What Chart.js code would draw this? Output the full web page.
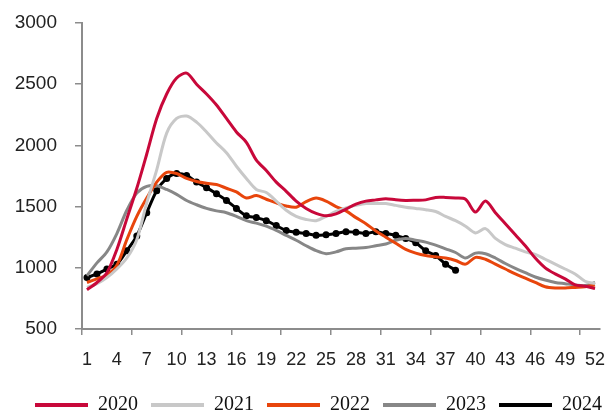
<!DOCTYPE html>
<html>
<head>
<meta charset="utf-8">
<script src="https://cdn.jsdelivr.net/npm/chart.js@4"></script>
<style>
  html, body { margin: 0; padding: 0; background: #fff; }
  #wrap { width: 609px; height: 410px; }
</style>
</head>
<body>
<div id="wrap"><canvas id="myChart"></canvas></div>
<script>
var weeks = [];
for (var w = 1; w <= 52; w++) weeks.push(String(w));

var y2020 = [820, 880, 960, 1150, 1400, 1650, 1930, 2220, 2420, 2550, 2590, 2500, 2420, 2330, 2220, 2110,
  2025, 1880, 1795, 1700, 1625, 1545, 1485, 1445, 1425, 1440, 1480, 1520, 1545, 1555, 1565, 1555, 1550, 1552,
  1555, 1575, 1575, 1570, 1560, 1455, 1545, 1450, 1360, 1270, 1180, 1080, 1000, 950, 910, 860, 850, 830];
var y2021 = [840, 870, 920, 990, 1080, 1230, 1530, 1800, 2100, 2220, 2240, 2190, 2110, 2020, 1940, 1830,
  1730, 1640, 1615, 1545, 1470, 1420, 1395, 1385, 1420, 1460, 1490, 1510, 1525, 1525, 1525, 1510, 1495, 1485,
  1475, 1460, 1420, 1385, 1340, 1285, 1320, 1240, 1190, 1160, 1130, 1110, 1070, 1030, 990, 950, 890, 870];
var y2022 = [880, 910, 940, 1020, 1230, 1420, 1570, 1700, 1780, 1770, 1730, 1705, 1690, 1680, 1650, 1620,
  1570, 1590, 1560, 1530, 1505, 1495, 1540, 1570, 1545, 1500, 1465, 1410, 1360, 1300, 1250, 1200, 1150, 1120,
  1100, 1090, 1080, 1060, 1030, 1085, 1070, 1030, 990, 950, 915, 880, 845, 835, 835, 840, 845, 860];
var y2023 = [935, 1040, 1130, 1280, 1470, 1610, 1665, 1670, 1640, 1600, 1550, 1515, 1485, 1465, 1450, 1420,
  1385, 1365, 1340, 1305, 1265, 1225, 1180, 1140, 1115, 1130, 1155, 1160, 1165, 1180, 1195, 1225, 1240, 1225,
  1210, 1185, 1155, 1125, 1080, 1120, 1115, 1080, 1035, 995, 960, 925, 900, 880, 870, 860, 855, 880];
var y2024 = [920, 950, 990, 1030, 1140, 1260, 1450, 1630, 1730, 1770, 1755, 1700, 1655, 1605, 1550, 1485,
  1425, 1410, 1385, 1345, 1305, 1290, 1280, 1265, 1270, 1280, 1295, 1290, 1280, 1295, 1280, 1265, 1240, 1205,
  1140, 1100, 1030, 980];

var axisGray = '#8c8c8c';

function line(label, data, color, dots) {
  return {
    label: label,
    data: data,
    borderColor: color,
    backgroundColor: color,
    borderWidth: 3,
    pointRadius: dots ? 3.5 : 0,
    pointBackgroundColor: color,
    pointBorderWidth: 0,
    tension: 0.3,
    fill: false
  };
}

// nudge the legend to where the original sits, and put a dot on the 2024 key
var legendTweak = {
  id: 'legendTweak',
  afterLayout: function (chart) {
    var lg = chart.legend;
    if (!lg) return;
    var dx = 15, dy = 15;
    lg.left += dx; lg.right += dx;
    lg.top += dy; lg.bottom += dy;
    (lg.legendHitBoxes || []).forEach(function (h) { h.left += dx; h.top += dy; });
  },
  afterDraw: function (chart) {
    var lg = chart.legend;
    if (!lg || !lg.legendHitBoxes || !lg.legendHitBoxes[4]) return;
    var hb = lg.legendHitBoxes[4];
    var bw = lg.options.labels.boxWidth;
    var c = chart.ctx;
    c.save();
    c.fillStyle = '#000';
    c.beginPath();
    c.arc(hb.left + bw / 2, hb.top + hb.height / 2, 3.5, 0, Math.PI * 2);
    c.fill();
    c.restore();
  }
};

var ctx = document.getElementById('myChart').getContext('2d');
var myChart = new Chart(ctx, {
  type: 'line',
  data: {
    labels: weeks,
    datasets: [
      line('2020', y2020, '#c8083a', false),
      line('2021', y2021, '#c8c8c8', false),
      line('2022', y2022, '#e8450c', false),
      line('2023', y2023, '#878787', false),
      line('2024', y2024, '#000000', true)
    ]
  },
  plugins: [legendTweak],
  options: {
    responsive: true,
    maintainAspectRatio: false,
    animation: false,
    layout: { padding: { top: 23, right: 9, left: 0, bottom: 0 } },
    plugins: {
      tooltip: { enabled: false },
      legend: {
        position: 'bottom',
        align: 'end',
        labels: {
          boxWidth: 53,
          boxHeight: 4,
          padding: 13,
          color: '#111',
          font: { family: '"Liberation Serif", serif', size: 20 },
          generateLabels: function (chart) {
            return Chart.defaults.plugins.legend.labels.generateLabels(chart).map(function (l) {
              l.fillStyle = l.strokeStyle;
              l.lineWidth = 0;
              return l;
            });
          }
        }
      }
    },
    scales: {
      x: {
        offset: true,
        afterFit: function (s) {
          s.height = 38;
          s.paddingLeft = 0;
          s.paddingRight = 0;
        },
        border: { display: true, color: axisGray, width: 2 },
        grid: {
          offset: true,
          drawOnChartArea: false,
          drawTicks: true,
          tickLength: 6,
          lineWidth: 1.5,
          color: function (c) { return c.index % 5 === 0 ? axisGray : 'rgba(0,0,0,0)'; }
        },
        ticks: {
          autoSkip: false,
          maxRotation: 0,
          padding: 14,
          color: '#222',
          font: { family: '"Liberation Sans", Arial, sans-serif', size: 18 },
          callback: function (v, i) { return i % 3 === 0 ? this.getLabelForValue(v) : ''; }
        }
      },
      y: {
        min: 500,
        max: 3000,
        afterFit: function (s) {
          s.width = 82;
          s.paddingTop = 10;
          s.paddingBottom = 10;
        },
        border: { display: true, color: axisGray, width: 2 },
        grid: {
          drawOnChartArea: false,
          drawTicks: true,
          tickLength: 7,
          lineWidth: 1.5,
          color: axisGray
        },
        ticks: {
          stepSize: 500,
          padding: 18,
          color: '#222',
          font: { family: '"Liberation Sans", Arial, sans-serif', size: 19 },
          callback: function (v) { return String(v); }
        }
      }
    }
  }
});
</script>
</body>
</html>
